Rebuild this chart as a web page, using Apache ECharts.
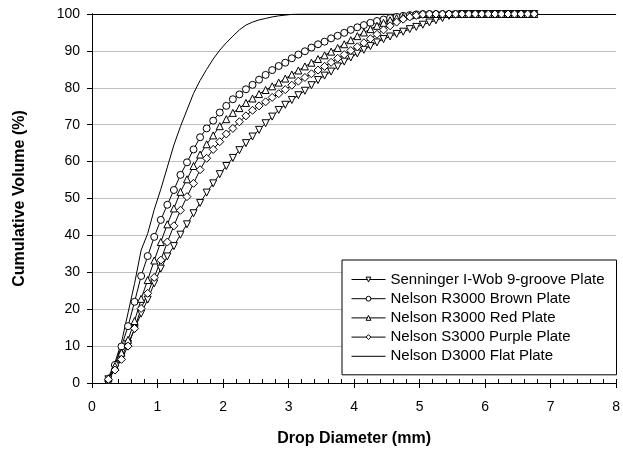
<!doctype html>
<html>
<head>
    <meta charset="utf-8">
    <title>Cumulative Volume</title>
    <script src="https://cdn.jsdelivr.net/npm/echarts@6/dist/echarts.min.js"></script>
</head>
<body style="margin:0;padding:0;background:#fff">
    <div id="tb" style="width:623px;height:457px"></div>
    <script>
        // drop diameters (mm)
        var diam = [0.25, 0.35, 0.45, 0.55, 0.65, 0.75, 0.85, 0.95, 1.05, 1.15,
            1.25, 1.35, 1.45, 1.55, 1.65, 1.75, 1.85, 1.95, 2.05, 2.15,
            2.25, 2.35, 2.45, 2.55, 2.65, 2.75, 2.85, 2.95, 3.05, 3.15,
            3.25, 3.35, 3.45, 3.55, 3.65, 3.75, 3.85, 3.95, 4.05, 4.15,
            4.25, 4.35, 4.45, 4.55, 4.65, 4.75, 4.85, 4.95, 5.05, 5.15,
            5.25, 5.35, 5.45, 5.55, 5.65, 5.75, 5.85, 5.95, 6.05, 6.15,
            6.25, 6.35, 6.45, 6.55, 6.65, 6.75];

        var senninger = [1, 3.8, 7.2, 10.6, 14.6, 18.8, 22.6, 27, 31, 34.3,
            37.1, 40.2, 43, 46, 48.8, 51.6, 54.1, 56.6, 58.8, 61,
            63.1, 65, 66.8, 68.6, 70.4, 72.2, 74, 75.4, 76.7, 78,
            79.2, 80.7, 82.1, 83.3, 84.4, 85.8, 87.1, 88.2, 89.3, 90.3,
            91.3, 92.3, 93.2, 93.9, 94.6, 95.2, 95.9, 96.5, 97.1, 97.7,
            98.3, 98.9, 99.5, 99.8, 100, 100, 100, 100, 100, 100,
            100, 100, 100, 100, 100, 100];

        var brown = [0.8, 4.9, 9.9, 15.4, 22, 29, 34.4, 39.6, 44.2, 48.3,
            52.3, 56.4, 59.8, 63.3, 66.6, 69, 71.1, 73.3, 75.1, 76.9,
            78.2, 79.6, 80.8, 82.2, 83.5, 84.8, 85.9, 86.8, 88, 89,
            89.9, 90.9, 91.8, 92.5, 93.4, 94.1, 94.9, 95.7, 96.4, 97,
            97.6, 98.1, 98.5, 98.9, 99.2, 99.5, 99.7, 99.9, 100, 100,
            100, 100, 100, 100, 100, 100, 100, 100, 100, 100,
            100, 100, 100, 100, 100, 100];

        var red = [1.3, 4.6, 8.2, 11.7, 16.8, 22.8, 27.9, 33.2, 38.2, 43,
            47.3, 51.8, 55.2, 58.8, 61.9, 64.7, 67.1, 69.6, 71.5, 73.2,
            74.5, 75.9, 77.1, 78.3, 79.4, 80.4, 81.4, 82.5, 83.6, 84.7,
            85.8, 86.8, 87.8, 88.8, 89.8, 90.8, 91.8, 92.9, 94, 95,
            95.9, 96.8, 97.6, 98.3, 98.9, 99.3, 99.6, 99.8, 100, 100,
            100, 100, 100, 100, 100, 100, 100, 100, 100, 100,
            100, 100, 100, 100, 100, 100];

        var purple = [1, 3.5, 6.4, 10, 14.8, 20.2, 24.3, 28.6, 33.3, 38.2,
            42.6, 46.8, 50.5, 54.1, 57.8, 60.9, 63.3, 65.4, 67.5, 69,
            70.8, 72.4, 73.9, 75.1, 76.2, 77.4, 78.4, 79.5, 80.7, 81.8,
            82.8, 83.8, 84.8, 85.8, 86.9, 88, 89, 90.1, 91.1, 92.2,
            93.3, 94.5, 95.7, 96.8, 97.8, 98.6, 99.2, 99.6, 99.9, 100,
            100, 100, 100, 100, 100, 100, 100, 100, 100, 100,
            100, 100, 100, 100, 100, 100];

        var flat = [1.5, 5.5, 11, 19, 27, 36, 40.5, 47, 52.5, 58.5,
            64.5, 69.5, 74, 78.5, 82, 85, 87.8, 90.2, 92.2, 94,
            95.7, 97, 97.8, 98.4, 98.8, 99.2, 99.5, 99.7, 99.9, 100,
            100, 100, 100, 100, 100, 100, 100, 100, 100, 100,
            100, 100, 100, 100, 100, 100, 100, 100, 100, 100,
            100, 100, 100, 100, 100, 100, 100, 100, 100, 100,
            100, 100, 100, 100, 100, 100];

        var names = ['Senninger I-Wob 9-groove Plate', 'Nelson R3000 Brown Plate',
            'Nelson R3000 Red Plate', 'Nelson S3000 Purple Plate', 'Nelson D3000 Flat Plate'];

        function pairs(ys) {
            return diam.map(function (d, i) { return [d, ys[i]]; });
        }

        var font = 'Liberation Sans, Arial, sans-serif';
        var chart = echarts.init(document.getElementById('tb'));

        // y split lines: grey, the one at 100 black (top border)
        var splitColors = [];
        for (var i = 0; i < 10; i++) splitColors.push('#c0c0c0');
        splitColors.push('#000');

        function markSeries(name, ys, symbol, size, rotate) {
            return {
                name: name,
                type: 'line',
                data: pairs(ys),
                symbol: symbol,
                symbolSize: size,
                symbolRotate: rotate || 0,
                showAllSymbol: true,
                animation: false,
                lineStyle: { color: '#000', width: 1 },
                itemStyle: { color: '#fff', borderColor: '#000', borderWidth: 1 }
            };
        }

        var hollow = { color: '#fff', borderColor: '#000', borderWidth: 1 };

        chart.setOption({
            animation: false,
            grid: { left: 92, right: 3, top: 14, bottom: 74 },
            legend: {
                orient: 'vertical',
                left: 342,
                top: 260,
                padding: [11, 12, 10, 9],
                itemWidth: 34,
                itemHeight: 6,
                itemGap: 2.2,
                backgroundColor: '#fff',
                borderColor: '#000',
                borderWidth: 1,
                lineStyle: { width: 1, color: '#000' },
                textStyle: { fontFamily: font, fontSize: 15, lineHeight: 17, color: '#000' },
                data: [
                    { name: names[0], itemStyle: hollow },
                    { name: names[1], itemStyle: hollow },
                    { name: names[2], itemStyle: hollow },
                    { name: names[3], itemStyle: hollow },
                    { name: names[4], itemStyle: { color: 'rgba(0,0,0,0)', borderColor: 'rgba(0,0,0,0)' } }
                ]
            },
            xAxis: [{
                type: 'value',
                min: 0,
                max: 8,
                interval: 1,
                name: 'Drop Diameter (mm)',
                nameLocation: 'middle',
                nameGap: 48,
                nameTextStyle: { fontFamily: font, fontSize: 16, fontWeight: 'bold', color: '#000' },
                axisLine: { lineStyle: { color: '#000', width: 1 } },
                axisTick: { show: true, length: 5, lineStyle: { color: '#000' } },
                axisLabel: { fontFamily: font, fontSize: 14, color: '#000', margin: 17 },
                splitLine: { show: false }
            }, {
                // minor ticks pointing inward
                type: 'value',
                position: 'bottom',
                min: 0,
                max: 8,
                interval: 0.2,
                axisLine: { show: false },
                axisTick: { show: true, inside: true, length: 4, lineStyle: { color: '#000' } },
                axisLabel: { show: false },
                splitLine: { show: false }
            }],
            yAxis: [{
                type: 'value',
                min: 0,
                max: 100,
                interval: 10,
                name: 'Cumulative Volume (%)',
                nameLocation: 'middle',
                nameGap: 64,
                nameTextStyle: { fontFamily: font, fontSize: 16, fontWeight: 'bold', color: '#000' },
                axisLine: { show: true, lineStyle: { color: '#000', width: 1 } },
                axisTick: { show: true, length: 5, lineStyle: { color: '#000' } },
                axisLabel: { fontFamily: font, fontSize: 14, color: '#000', margin: 12 },
                splitLine: { show: true, lineStyle: { color: splitColors, width: 1 } }
            }, {
                // right border
                type: 'value',
                position: 'right',
                min: 0,
                max: 100,
                interval: 10,
                axisLine: { show: true, lineStyle: { color: '#000', width: 1 } },
                axisTick: { show: false },
                axisLabel: { show: false },
                splitLine: { show: false }
            }],
            series: [
                markSeries(names[0], senninger, 'triangle', 7, 180),
                markSeries(names[1], brown, 'circle', 7),
                markSeries(names[2], red, 'triangle', 7),
                markSeries(names[3], purple, 'diamond', 8),
                {
                    name: names[4],
                    type: 'line',
                    data: pairs(flat),
                    symbol: 'none',
                    animation: false,
                    lineStyle: { color: '#000', width: 1 },
                    itemStyle: { color: '#000' }
                }
            ]
        });
    </script>
</body>
</html>
